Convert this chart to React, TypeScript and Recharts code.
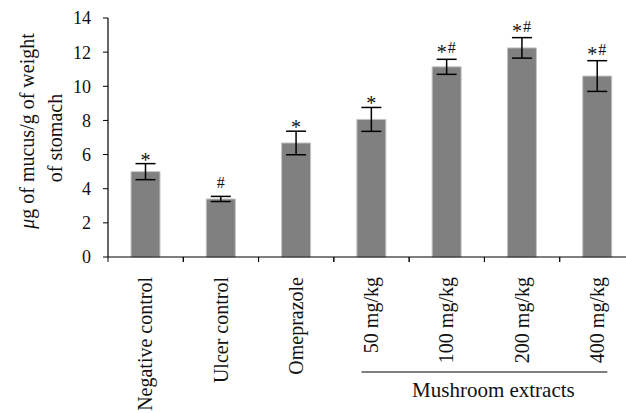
import { BarChart, Bar, XAxis, YAxis, ErrorBar, LabelList } from 'recharts';

// Categorías y valores
const GRUPOS = ['Negative control', 'Ulcer control', 'Omeprazole', '50 mg/kg', '100 mg/kg', '200 mg/kg', '400 mg/kg'];
const MEDIAS = [5.0, 3.4, 6.68, 8.06, 11.14, 12.25, 10.6];
const ERRORES = [0.47, 0.15, 0.69, 0.7, 0.44, 0.6, 0.9];
const MARCAS = ['*', '#', '*', '*', '*#', '*#', '*#'];
const TICKS_Y = [0, 2, 4, 6, 8, 10, 12, 14];

const datos = GRUPOS.map((name, i) => ({ name, media: MEDIAS[i], err: ERRORES[i], marca: MARCAS[i] }));

const FUENTE = '"Liberation Serif", "Times New Roman", serif';

// Etiqueta de categoría girada + marcas entre categorías + bracket "Mushroom extracts"
function TickCategoria(props: any) {
  const { x, y, payload, index } = props;
  const half = payload?.offset ?? 37.6;
  return (
    <g>
      <line x1={x - half} y1={y - 8} x2={x - half} y2={y - 3} stroke="#000" strokeWidth={1} />
      <line x1={x + half} y1={y - 8} x2={x + half} y2={y - 3} stroke="#000" strokeWidth={1} />
      <text
        x={x}
        y={y + 12}
        transform={`rotate(-90, ${x}, ${y + 12})`}
        textAnchor="end"
        dy="0.33em"
        fontSize={20}
        fontFamily={FUENTE}
        fill="#111"
      >
        {payload.value}
      </text>
      {index === 3 && (
        <g>
          <line x1={x - 10} y1={y + 107} x2={x + half * 6 + 10} y2={y + 107} stroke="#000" strokeWidth={1} />
          <text x={x + half * 3 + 9} y={y + 132} textAnchor="middle" fontSize={21} fontFamily={FUENTE} fill="#111">
            Mushroom extracts
          </text>
        </g>
      )}
    </g>
  );
}

// Marcas de significancia (* y #) encima de la barra de error
function Marca(props: any) {
  const { x, y, width, height, index } = props;
  const v = MEDIAS[index];
  const e = ERRORES[index];
  const marca = MARCAS[index];
  const cx = x + width / 2;
  const top = y - (e * height) / v;
  if (marca === '#') {
    return (
      <text x={cx} y={top - 8} textAnchor="middle" fontSize={16} fontFamily={FUENTE} fill="#111">#</text>
    );
  }
  if (marca === '*') {
    return (
      <text x={cx} y={top + 3} textAnchor="middle" fontSize={20} fontFamily={FUENTE} fill="#111">*</text>
    );
  }
  return (
    <g>
      <text x={cx - 5} y={top} textAnchor="middle" fontSize={20} fontFamily={FUENTE} fill="#111">*</text>
      <text x={cx + 5} y={top - 6} textAnchor="middle" fontSize={16} fontFamily={FUENTE} fill="#111">#</text>
    </g>
  );
}

function TituloY(props: any) {
  const { viewBox } = props;
  const top = viewBox?.y ?? 18;
  return (
    <g fontFamily={FUENTE} fontSize={20} fill="#111">
      <text x={34} y={top + 113} transform={`rotate(-90, 34, ${top + 113})`} textAnchor="middle">
        <tspan fontStyle="italic">μ</tspan>g of mucus/g of weight
      </text>
      <text x={62} y={top + 120} transform={`rotate(-90, 62, ${top + 120})`} textAnchor="middle">
        of stomach
      </text>
    </g>
  );
}

export default function App() {
  return (
    <div style={{ position: 'fixed', left: 0, top: 0, width: 626, height: 413, overflow: 'hidden', background: '#fff' }}>
      <BarChart
        width={640}
        height={413}
        data={datos}
        margin={{ top: 18, right: 5, left: 0, bottom: 0 }}
        barCategoryGap={0}
      >
        <XAxis
          dataKey="name"
          interval={0}
          height={156}
          tickLine={false}
          tick={<TickCategoria />}
          axisLine={{ stroke: '#000', strokeWidth: 1.2 }}
        />
        <YAxis
          domain={[0, 14]}
          ticks={TICKS_Y}
          width={108}
          tickSize={5}
          tickMargin={12}
          axisLine={{ stroke: '#000', strokeWidth: 1.2 }}
          tickLine={{ stroke: '#000' }}
          tick={{ fontSize: 18, fontFamily: FUENTE, fill: '#111' }}
          label={<TituloY />}
        />
        <Bar dataKey="media" fill="#808080" stroke="#c4c4c4" strokeWidth={1} barSize={29} isAnimationActive={false}>
          <ErrorBar dataKey="err" width={10} stroke="#000" strokeWidth={1.5} isAnimationActive={false} />
          <LabelList dataKey="marca" content={<Marca />} />
        </Bar>
      </BarChart>
    </div>
  );
}
